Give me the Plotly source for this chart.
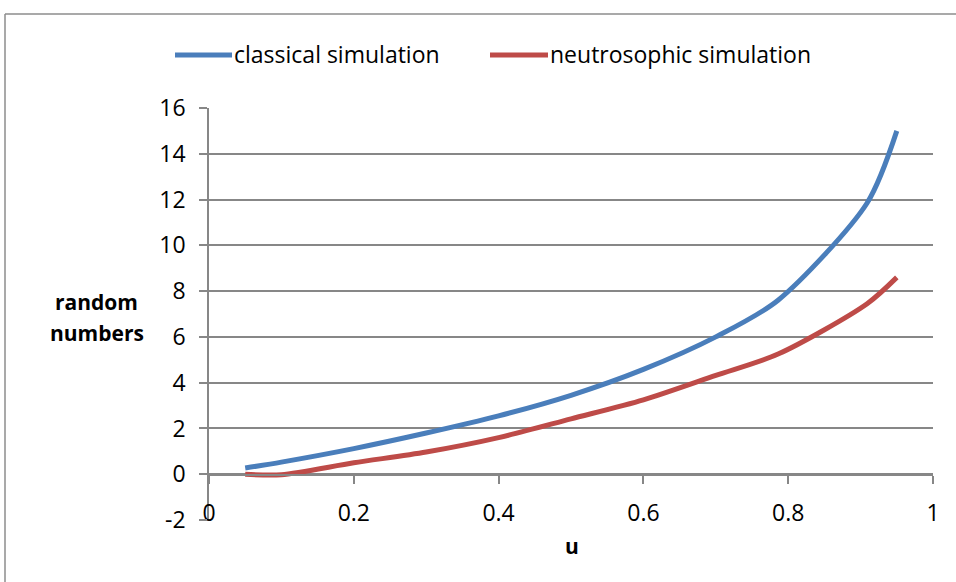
import plotly.graph_objects as go

# Data
u = [0.05, 0.10, 0.20, 0.30, 0.40, 0.50, 0.60, 0.70, 0.786, 0.909, 0.95]
classical = [0.27, 0.53, 1.12, 1.80, 2.55, 3.45, 4.58, 6.00, 7.60, 11.85, 15.0]
neutrosophic = [0.0, -0.02, 0.50, 0.97, 1.60, 2.42, 3.25, 4.32, 5.25, 7.45, 8.6]

series_names = ["classical simulation", "neutrosophic simulation"]
x_ticks = [0, 0.2, 0.4, 0.6, 0.8, 1]
x_tick_text = ["0", "0.2", "0.4", "0.6", "0.8", "1"]
y_ticks = [-2, 0, 2, 4, 6, 8, 10, 12, 14, 16]
y_tick_text = ["-2", "0", "2", "4", "6", "8", "10", "12", "14", "16"]

BLUE = "#4A7EBB"
RED = "#BE4B48"
GRID = "#878787"
FONT = "Open Sans"

fig = go.Figure()
fig.add_trace(go.Scatter(x=u, y=classical, mode="lines", name=series_names[0],
                         line=dict(color=BLUE, width=5, shape="spline", smoothing=0.8)))
fig.add_trace(go.Scatter(x=u, y=neutrosophic, mode="lines", name=series_names[1],
                         line=dict(color=RED, width=5, shape="spline", smoothing=0.8)))

L, R, T, B = 209, 23, 108, 62
W, H = 956, 582
pw = W - L - R
ph = H - T - B

def px2x(px):
    return (px - L) / pw

def py2y(py):
    return (H - B - py) / ph

fig.update_layout(
    width=W, height=H,
    margin=dict(l=L, r=R, t=T, b=B, pad=0),
    paper_bgcolor="white", plot_bgcolor="white",
    font=dict(family=FONT, size=23, color="#000000"),
    showlegend=False,
    xaxis=dict(range=[0, 1], tickvals=x_ticks, ticktext=x_tick_text,
               showgrid=False, zeroline=False,
               showline=True, linecolor=GRID, linewidth=1.5,
               ticks="outside", ticklen=8, tickcolor=GRID, tickwidth=1.5,
               anchor="free", position=py2y(475), ticklabelstandoff=10,
               tickfont=dict(family=FONT, size=23)),
    yaxis=dict(range=[-2, 16], tickvals=y_ticks, ticktext=y_tick_text,
               showgrid=True, gridcolor=GRID, gridwidth=1.5,
               zeroline=False, showline=True, linecolor=GRID, linewidth=1.5,
               ticks="outside", ticklen=8, tickcolor=GRID, tickwidth=1.5,
               ticklabelstandoff=9,
               tickfont=dict(family=FONT, size=23)),
)

# Legend (drawn manually to match the long line samples)
legend_items = [(series_names[0], BLUE, 175, 232), (series_names[1], RED, 490, 548)]
for name, col, x0, x1 in legend_items:
    fig.add_shape(type="line", xref="paper", yref="paper", x0=px2x(x0), x1=px2x(x1),
                  y0=py2y(55), y1=py2y(55), line=dict(color=col, width=5))
    fig.add_annotation(text=name, x=px2x(x1), y=py2y(54), xref="paper", yref="paper",
                       xanchor="left", yanchor="middle", showarrow=False,
                       font=dict(family=FONT, size=23, color="#000000"))

# Axis titles
fig.add_annotation(text="<b>random</b>", x=px2x(96), y=py2y(302), xref="paper", yref="paper",
                   xanchor="center", yanchor="middle",
                   showarrow=False, font=dict(family=FONT, size=21))
fig.add_annotation(text="<b>numbers</b>", x=px2x(97), y=py2y(333), xref="paper", yref="paper",
                   xanchor="center", yanchor="middle",
                   showarrow=False, font=dict(family=FONT, size=21))
fig.add_annotation(text="<b>u</b>", x=px2x(572), y=py2y(546), xref="paper", yref="paper",
                   xanchor="center", yanchor="middle",
                   showarrow=False, font=dict(family=FONT, size=21))

# Chart area border (top and left visible)
fig.add_shape(type="line", xref="paper", yref="paper", x0=px2x(5), x1=px2x(960), y0=py2y(14), y1=py2y(14),
              line=dict(color="#8C8C8C", width=1.5))
fig.add_shape(type="line", xref="paper", yref="paper", x0=px2x(5), x1=px2x(5), y0=py2y(14), y1=py2y(590),
              line=dict(color="#8C8C8C", width=1.5))

fig.write_html("out.html")
